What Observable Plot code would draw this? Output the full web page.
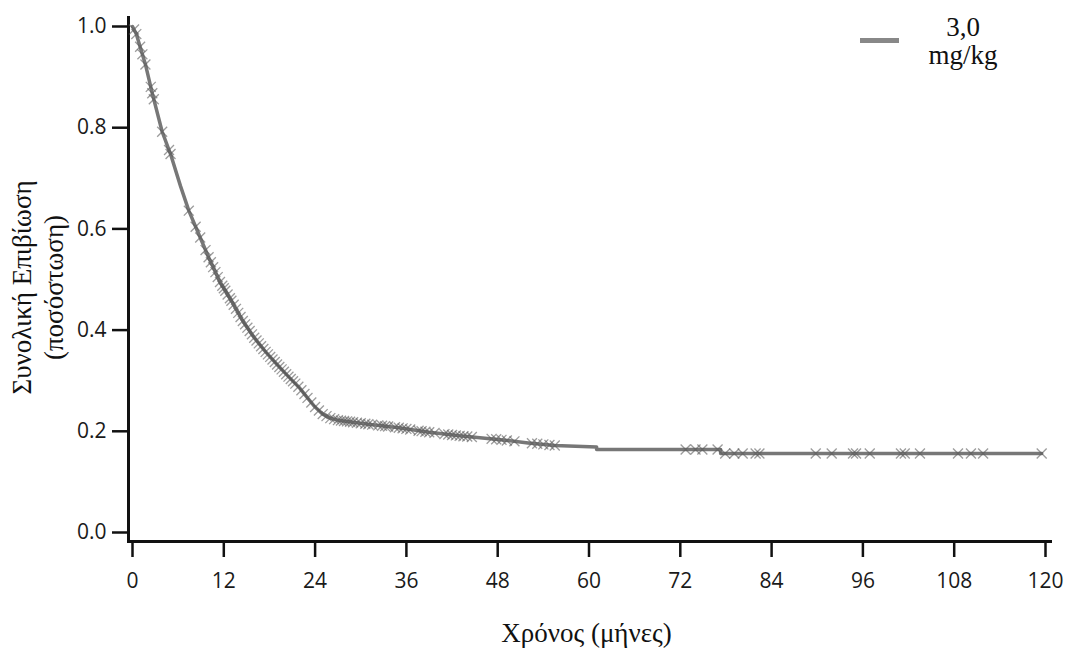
<!DOCTYPE html>
<html>
<head>
<meta charset="utf-8">
<script src="https://cdn.jsdelivr.net/npm/d3@7"></script>
<script src="https://cdn.jsdelivr.net/npm/@observablehq/plot@0.6"></script>
<style>
  body { margin: 0; background: #fff; }
  #wrap { position: relative; width: 1068px; height: 648px; overflow: hidden; }
  #legend { position: absolute; left: 0; top: 0; width: 1068px; height: 100px; pointer-events: none; }
  #legend .swatch { position: absolute; left: 860px; top: 38px; width: 39px; height: 5px; background: #888; }
  #legend .lbl { position: absolute; left: 903px; width: 120px; text-align: center;
    font-family: "Liberation Serif", "Times New Roman", serif; font-size: 27px; color: #111; line-height: 27px; }
</style>
</head>
<body>
<div id="wrap"></div>
<script>
// ---- data ----
const curveTime = [0, 0.5, 1.0, 1.7, 2.6, 3.9, 5.0, 6.3, 7.4, 8.7, 10.0, 11.5, 13.0, 14.5, 16.0, 17.5, 19.0, 20.5, 22.0, 23.0, 24.0, 25.0, 26.0, 27.0, 28.5, 31.0, 35.0, 39.0, 43.0, 48.0, 52.0, 55.5, 61.0, 61.0, 77.3, 77.3, 119.5];
const curveSurv = [1.0, 0.985, 0.96, 0.925, 0.868, 0.792, 0.748, 0.685, 0.636, 0.59, 0.544, 0.495, 0.458, 0.418, 0.385, 0.357, 0.332, 0.308, 0.285, 0.266, 0.248, 0.234, 0.226, 0.222, 0.219, 0.214, 0.207, 0.198, 0.191, 0.184, 0.177, 0.172, 0.169, 0.164, 0.164, 0.156, 0.156];
const censorTimes = [0.2, 0.5, 1.0, 1.3, 1.7, 2.4, 2.6, 2.8, 3.9, 4.8, 5.0, 7.4, 8.3, 8.9, 9.6, 10.0,
  10.3, 10.6, 10.9, 11.2, 11.5, 11.8, 12.0, 12.2, 12.5, 12.8, 13.0, 13.3, 13.6, 13.9, 14.2, 14.5, 14.8,
  15.1, 15.4, 15.7, 16.0, 16.3, 16.6, 16.9, 17.2, 17.5, 17.8, 18.1, 18.4, 18.7, 19.0, 19.3, 19.6, 19.9,
  20.2, 20.5, 20.8, 21.1, 21.4, 21.8, 22.2, 22.6, 23.0, 23.5, 24.0, 24.5, 25.0, 25.5, 26.0, 26.5, 27.0,
  27.4, 27.8, 28.2, 28.6, 29.0, 29.5, 30.0, 30.6, 31.0, 31.5, 32.3, 32.8, 33.2, 33.6, 34.5, 35.0, 35.5,
  36.0, 36.5, 37.6, 38.0, 38.5, 39.0, 39.7, 41.0, 41.5, 42.0, 42.5, 43.0, 43.5, 44.0, 44.6, 47.2, 47.8,
  48.5, 49.2, 50.2, 52.5, 53.2, 54.0, 54.8, 55.5, 72.7, 74.0, 74.9, 76.9, 77.9, 79.1, 80.2, 81.9, 82.4,
  89.8, 91.9, 94.7, 95.1, 96.9, 101.0, 101.5, 103.5, 108.5, 110.2, 111.8, 119.5];
const xTicks = [0, 12, 24, 36, 48, 60, 72, 84, 96, 108, 120];
const yTicks = [0, 0.2, 0.4, 0.6, 0.8, 1.0];
const seriesLabel = ["3,0", "mg/kg"];
const xTitle = "Χρόνος (μήνες)";
const yTitleLines = ["Συνολική Επιβίωση", "(ποσόστωση)"];

// ---- derived tables ----
const curve = curveTime.map((t, i) => ({t, s: curveSurv[i]}));
function survAt(t) {
  let i = 0;
  for (let k = 0; k < curveTime.length; k++) if (curveTime[k] <= t) i = k;
  if (i >= curveTime.length - 1) return curveSurv[curveSurv.length - 1];
  const t0 = curveTime[i], t1 = curveTime[i + 1];
  return curveSurv[i] + (curveSurv[i + 1] - curveSurv[i]) * (t - t0) / (t1 - t0);
}
const censor = censorTimes.map(t => ({t, s: survAt(t)}));

const serif = "'Liberation Serif', 'Times New Roman', serif";

const chart = Plot.plot({
  width: 1068,
  height: 648,
  marginLeft: 128,
  marginRight: 18,
  marginTop: 17,
  marginBottom: 107,
  insetLeft: 4,
  insetRight: 5,
  insetTop: 9,
  insetBottom: 9,
  x: {domain: [0, 120]},
  y: {domain: [0, 1]},
  style: {fontFamily: "'Open Sans', sans-serif", fontSize: "21px", color: "#1a1a1a", background: "white", overflow: "visible"},
  marks: [
    Plot.axisX({ticks: xTicks, tickSize: 16, tickPadding: 16, tickFormat: d => String(d), label: null, strokeWidth: 2.5, stroke: "#111", fill: "#1a1a1a"}),
    Plot.axisY({ticks: yTicks, tickSize: 16, tickPadding: 6, tickFormat: d3.format(".1f"), label: null, strokeWidth: 2.5, stroke: "#111", fill: "#1a1a1a"}),
    Plot.frame({anchor: "left", stroke: "#111", strokeWidth: 3}),
    Plot.frame({anchor: "bottom", stroke: "#111", strokeWidth: 3}),
    Plot.line(curve, {x: "t", y: "s", stroke: "#777", strokeWidth: 3.5}),
    Plot.dot(censor, {x: "t", y: "s", symbol: "times", r: 4.6, stroke: "#5a5a5a", strokeWidth: 1.3, strokeOpacity: 0.6}),
    Plot.text([xTitle], {frameAnchor: "bottom", dx: -3, dy: 92, lineAnchor: "middle", textAnchor: "middle", fontFamily: serif, fontSize: 27, fill: "#111"}),
    Plot.text([yTitleLines[0]], {frameAnchor: "left", dx: 22 - 128, dy: 8, rotate: -90, lineAnchor: "middle", textAnchor: "middle", fontFamily: serif, fontSize: 27, fill: "#111"}),
    Plot.text([yTitleLines[1]], {frameAnchor: "left", dx: 54 - 128, dy: 8, rotate: -90, lineAnchor: "middle", textAnchor: "middle", fontFamily: serif, fontSize: 27, fill: "#111"})
  ]
});

const wrap = document.getElementById("wrap");
wrap.appendChild(chart);

const legend = document.createElement("div");
legend.id = "legend";
const sw = document.createElement("div");
sw.className = "swatch";
legend.appendChild(sw);
seriesLabel.forEach((txt, i) => {
  const d = document.createElement("div");
  d.className = "lbl";
  d.style.top = (14 + i * 28) + "px";
  d.textContent = txt;
  legend.appendChild(d);
});
wrap.appendChild(legend);
</script>
</body>
</html>
